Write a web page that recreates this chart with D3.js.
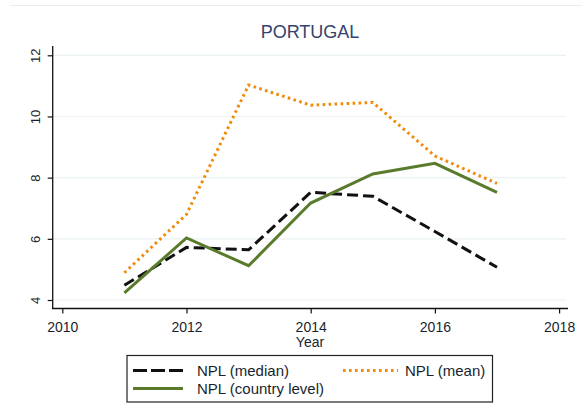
<!DOCTYPE html>
<html>
<head>
<meta charset="utf-8">
<script src="https://cdn.jsdelivr.net/npm/d3@7"></script>
<style>
html,body{margin:0;padding:0;background:#fff;}
svg{display:block;font-family:"Liberation Sans",Arial,sans-serif;}
</style>
</head>
<body>
<svg id="chart" width="582" height="408"></svg>
<script>
const title = "PORTUGAL";
const years = [2011, 2012, 2013, 2014, 2015, 2016, 2017];
const nplMedian = [4.48, 5.72, 5.64, 7.52, 7.39, 6.24, 5.07];
const nplMean = [4.89, 6.80, 11.03, 10.37, 10.46, 8.71, 7.81];
const nplCountry = [4.23, 6.03, 5.12, 7.17, 8.12, 8.47, 7.52];
const xTicks = [2010, 2012, 2014, 2016, 2018];
const yTicks = [4, 6, 8, 10, 12];
const xLabel = "Year";
const seriesNames = ["NPL (median)", "NPL (mean)", "NPL (country level)"];

const svg = d3.select("#chart");
const x = d3.scaleLinear().domain([2010, 2018]).range([62.3, 559.1]);
const y = d3.scaleLinear().domain([4, 12]).range([300, 55.3]);
const axisLeftX = 52.7, axisBottomY = 308.5, plotRight = 568, plotTop = 46;

// faint top border
svg.append("line").attr("x1", 10).attr("x2", 582).attr("y1", 5.5).attr("y2", 5.5)
  .attr("stroke", "#e6eef0").attr("stroke-width", 1);

// grid
svg.append("g").selectAll("line").data(yTicks).join("line")
  .attr("x1", axisLeftX).attr("x2", plotRight - 2)
  .attr("y1", d => y(d)).attr("y2", d => y(d))
  .attr("stroke", "#eaf2f2").attr("stroke-width", 1.2);

// title
svg.append("text").attr("x", 310).attr("y", 38.3).attr("text-anchor", "middle")
  .attr("font-size", 18).attr("fill", "#34436e").text(title);

// y axis
const gy = svg.append("g").attr("transform", `translate(${axisLeftX},0)`)
  .call(d3.axisLeft(y).tickValues(yTicks).tickSize(5).tickPadding(0).tickFormat(d3.format("d")));
gy.select(".domain").remove();
gy.selectAll(".tick line").attr("stroke", "#111").attr("stroke-width", 1.2);
gy.selectAll(".tick text")
  .attr("transform", "rotate(-90)")
  .attr("x", 0).attr("y", -13).attr("dy", 0)
  .attr("text-anchor", "middle")
  .attr("font-size", 13).attr("fill", "#1a1f2e")
  .style("font-family", "'Liberation Sans',Arial,sans-serif");
svg.append("line").attr("x1", axisLeftX).attr("x2", axisLeftX)
  .attr("y1", plotTop).attr("y2", axisBottomY + 0.6)
  .attr("stroke", "#111").attr("stroke-width", 1.3);

// x axis
const gx = svg.append("g").attr("transform", `translate(0,${axisBottomY})`)
  .call(d3.axisBottom(x).tickValues(xTicks).tickSize(5).tickPadding(0).tickFormat(d3.format("d")));
gx.select(".domain").remove();
gx.selectAll(".tick line").attr("stroke", "#111").attr("stroke-width", 1.2);
gx.selectAll(".tick text")
  .attr("y", 23.5).attr("dy", 0)
  .attr("font-size", 14).attr("fill", "#1a1f2e")
  .style("font-family", "'Liberation Sans',Arial,sans-serif");
svg.append("line").attr("x1", axisLeftX - 0.6).attr("x2", plotRight)
  .attr("y1", axisBottomY).attr("y2", axisBottomY)
  .attr("stroke", "#111").attr("stroke-width", 1.3);

svg.append("text").attr("x", 310).attr("y", 346.5).attr("text-anchor", "middle")
  .attr("font-size", 14).attr("fill", "#1a1f2e").text(xLabel);

// series
const styles = [
  {color: "#111111", dash: "11,5", width: 3},
  {color: "#f08a0a", dash: "2.6,3.4", width: 3},
  {color: "#5a7b2c", dash: null, width: 3}
];
const data = [nplMedian, nplMean, nplCountry];
const line = d3.line().x((d, i) => x(years[i])).y(d => y(d));
data.forEach((vals, k) => {
  svg.append("path").datum(vals)
    .attr("d", line)
    .attr("fill", "none")
    .attr("stroke", styles[k].color)
    .attr("stroke-width", styles[k].width)
    .attr("stroke-dasharray", styles[k].dash)
    .attr("stroke-linejoin", "miter");
});

// legend
const lg = svg.append("g");
lg.append("rect").attr("x", 127).attr("y", 355.5).attr("width", 365.5).attr("height", 46.5)
  .attr("fill", "#fff").attr("stroke", "#222").attr("stroke-width", 1.2);
const legendItems = [
  {name: seriesNames[0], k: 0, lx: 133, ly: 370.5, tx: 197},
  {name: seriesNames[1], k: 1, lx: 343, ly: 370.5, tx: 405},
  {name: seriesNames[2], k: 2, lx: 133, ly: 388.5, tx: 197}
];
legendItems.forEach(it => {
  const st = styles[it.k];
  const len = it.k === 1 ? 55 : 50;
  lg.append("line").attr("x1", it.lx).attr("x2", it.lx + len)
    .attr("y1", it.ly).attr("y2", it.ly)
    .attr("stroke", st.color).attr("stroke-width", st.width)
    .attr("stroke-dasharray", it.k === 0 ? "14,4" : st.dash);
  lg.append("text").attr("x", it.tx).attr("y", it.ly + 5.3)
    .attr("font-size", 15).attr("fill", "#1a1f2e").text(it.name);
});
</script>
</body>
</html>
